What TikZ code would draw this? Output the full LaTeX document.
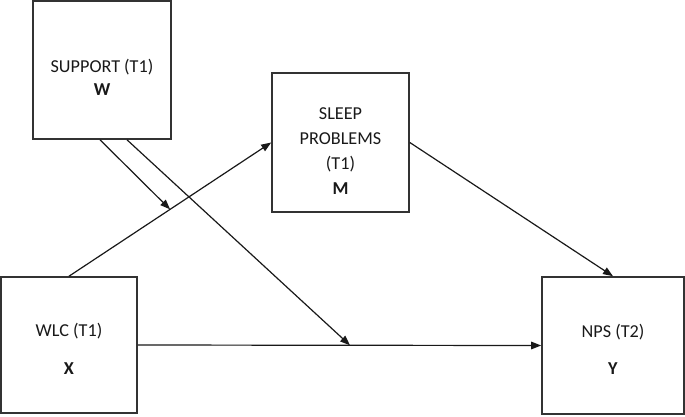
\documentclass[tikz,border=0pt]{standalone}
\usepackage{fontspec}
\setmainfont{Carlito}
\usetikzlibrary{arrows.meta}
\tikzset{
    box/.style={draw=black!80, line width=1.6pt, rectangle},
    lbl/.style={align=center, font=\fontsize{18.2}{25}\selectfont, text=black!90},
    arr/.style={-{Triangle[length=10pt,width=7.5pt]}, line width=1.2pt, black!90}
}
\begin{document}
\begin{tikzpicture}[x=1pt, y=-1pt]
    \useasboundingbox (0,0) rectangle (685,416);
    % boxes
    \node[box, minimum width=138pt, minimum height=138pt] (support) at (102,70) {};
    \node[box, minimum width=137pt, minimum height=139pt] (sleep) at (340.5,142.5) {};
    \node[box, minimum width=136pt, minimum height=136pt] (wlc) at (69,345) {};
    \node[box, minimum width=142pt, minimum height=137pt] (nps) at (613,345.5) {};
    % texts
    \node[lbl] (supporttxt) at (102,77) {SUPPORT (T1)\\[-2pt]\textbf{W}};
    \node[lbl] (sleeptxt) at (340.5,151) {SLEEP\\PROBLEMS\\(T1)\\\textbf{M}};
    \node[lbl] (wlctxt) at (69,349) {WLC (T1)\\[13pt]\textbf{X}};
    \node[lbl] (npstxt) at (613,349) {NPS (T2)\\[12pt]\textbf{Y}};
    % paths
    \draw[arr] (wlc.north) -- coordinate[pos=0.5] (xm) (sleep.west);
    \draw[arr] (sleep.east) -- (nps.north);
    \draw[arr] (wlc.east) -- coordinate[pos=0.526] (xy) (nps.west);
    \draw[arr] ([xshift=-2pt]support.south) -- (xm);
    \draw[arr] ([xshift=25pt]support.south) -- (xy);
\end{tikzpicture}
\end{document}
